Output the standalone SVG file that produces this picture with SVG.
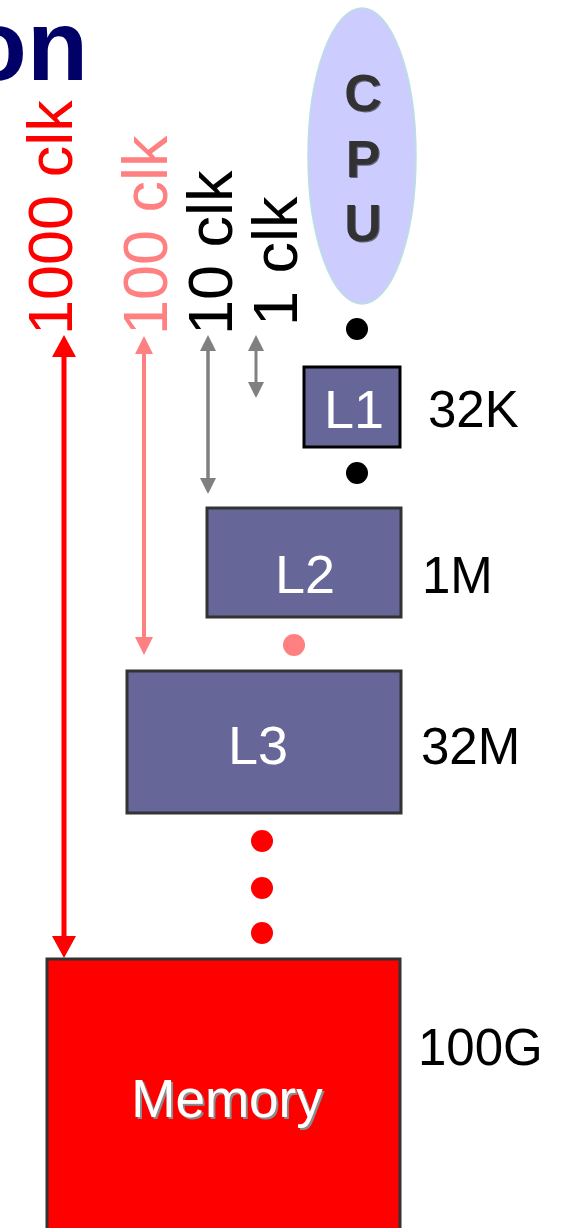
<svg xmlns="http://www.w3.org/2000/svg" width="563" height="1228" viewBox="0 0 563 1228">
  <style>
    text { font-family: "Liberation Sans", Arial, sans-serif; }
    .title { font-size: 100px; font-weight: bold; fill: #000066; }
    .lat { font-size: 63px; }
    .size { font-size: 51px; fill: #000000; }
    .cpu-letter { font-size: 52px; font-weight: bold; fill: #333333; text-anchor: middle; }
    .cache { fill: #666699; stroke: #333333; stroke-width: 3; }
    .cache-label { font-size: 54px; fill: #FFFFFF; text-anchor: middle; }
    .red { fill: #FF0000; }
    .pink { fill: #FF8080; }
    .black { fill: #000000; }
    .gray { fill: #808080; }
  </style>
  <defs>
    <filter id="textShadow" x="-10%" y="-20%" width="130%" height="150%">
      <feDropShadow dx="2" dy="2" stdDeviation="0.6" flood-color="#8c8c8c" flood-opacity="1"/>
    </filter>
    <filter id="letterShadow" x="-20%" y="-20%" width="150%" height="150%">
      <feDropShadow dx="1" dy="1" stdDeviation="0.5" flood-color="#000000" flood-opacity="0.5"/>
    </filter>
  </defs>

  <rect width="563" height="1228" fill="#FFFFFF"/>

  <!-- heading fragment -->
  <text class="title" x="88" y="80" text-anchor="end">on</text>

  <!-- latency labels, reading upward -->
  <g id="latency-labels">
    <text class="lat red" x="72" y="335" transform="rotate(-90 72 335)">1000 clk</text>
    <text class="lat pink" x="167" y="335" transform="rotate(-90 167 335)">100 clk</text>
    <text class="lat black" x="232" y="335" transform="rotate(-90 232 335)">10 clk</text>
    <text class="lat black" x="297" y="326" transform="rotate(-90 297 326)">1 clk</text>
  </g>

  <!-- double-headed latency arrows -->
  <g id="connectors">
    <line x1="64" y1="355" x2="64" y2="938" stroke="#FF0000" stroke-width="5"/>
    <polygon class="red" points="64,335 52,357 76,357"/>
    <polygon class="red" points="64,958 52,936 76,936"/>

    <line x1="144" y1="352" x2="144" y2="640" stroke="#FF8080" stroke-width="4"/>
    <polygon class="pink" points="144,336 135,354 153,354"/>
    <polygon class="pink" points="144,655 135,637 153,637"/>

    <line x1="208" y1="349" x2="208" y2="480" stroke="#808080" stroke-width="3.5"/>
    <polygon class="gray" points="208,335 200,351 216,351"/>
    <polygon class="gray" points="208,494 200,478 216,478"/>

    <line x1="256" y1="349" x2="256" y2="384" stroke="#808080" stroke-width="3"/>
    <polygon class="gray" points="256,335 248,351 264,351"/>
    <polygon class="gray" points="256,398 248,382 264,382"/>
  </g>

  <!-- processor -->
  <g id="cpu">
    <ellipse cx="362" cy="156" rx="54" ry="148" fill="#CCCCFF" stroke="#B8E0E0" stroke-width="1.5"/>
    <g filter="url(#letterShadow)">
      <text class="cpu-letter" x="363" y="111">C</text>
      <text class="cpu-letter" x="363" y="177">P</text>
      <text class="cpu-letter" x="363" y="241">U</text>
    </g>
  </g>

  <g id="dot-cpu-l1"><circle cx="357" cy="329" r="11" fill="#000000"/></g>

  <g id="l1">
    <rect x="304" y="367" width="96" height="80" fill="#666699" stroke="#000000" stroke-width="3"/>
    <text class="cache-label" x="354" y="428">L1</text>
  </g>
  <g id="l1-size"><text class="size" x="428" y="427">32K</text></g>

  <g id="dot-l1-l2"><circle cx="357" cy="473" r="11" fill="#000000"/></g>

  <g id="l2">
    <rect class="cache" x="207" y="508" width="194" height="109"/>
    <text class="cache-label" x="305" y="593">L2</text>
  </g>
  <g id="l2-size"><text class="size" x="422" y="593">1M</text></g>

  <g id="dot-l2-l3"><circle cx="294" cy="645" r="11" fill="#FF8080"/></g>

  <g id="l3">
    <rect class="cache" x="127" y="671" width="274" height="142"/>
    <text class="cache-label" x="258" y="764">L3</text>
  </g>
  <g id="l3-size"><text class="size" x="421" y="764">32M</text></g>

  <g id="dots-l3-memory">
    <circle cx="262" cy="841" r="11" fill="#FF0000"/>
    <circle cx="262" cy="888" r="11" fill="#FF0000"/>
    <circle cx="262" cy="933" r="11" fill="#FF0000"/>
  </g>

  <g id="memory">
    <rect x="47" y="959" width="353" height="300" fill="#FF0000" stroke="#333333" stroke-width="3"/>
    <text x="227" y="1117" font-size="53" fill="#FFFFFF" text-anchor="middle" filter="url(#textShadow)">Memory</text>
  </g>
  <g id="memory-size"><text class="size" x="418" y="1065">100G</text></g>
</svg>
